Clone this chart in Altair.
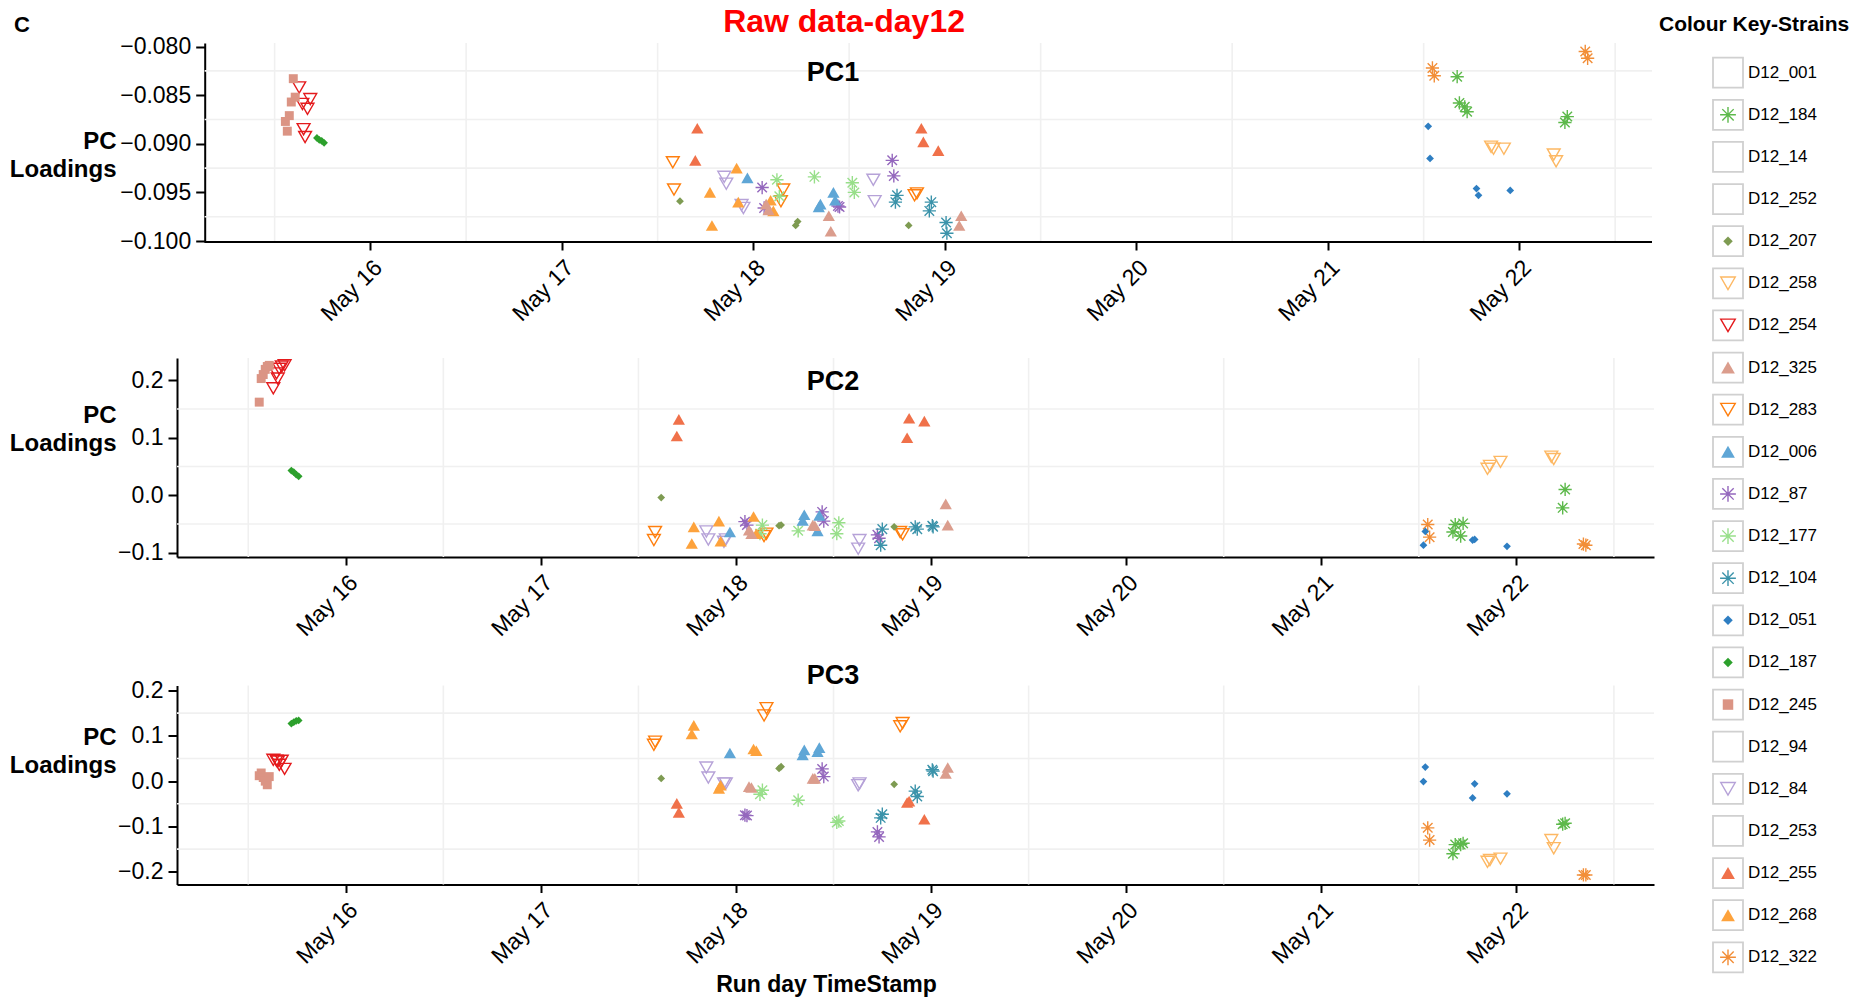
import altair as alt
import pandas as pd

FONT = "Liberation Sans"
BASE = pd.Timestamp("2017-05-15 00:00:00")

# ---------------- legend / strain definitions ----------------
strains = ["D12_001", "D12_184", "D12_14", "D12_252", "D12_207", "D12_258", "D12_254",
           "D12_325", "D12_283", "D12_006", "D12_87", "D12_177", "D12_104", "D12_051",
           "D12_187", "D12_245", "D12_94", "D12_84", "D12_253", "D12_255", "D12_268", "D12_322"]
strain_colors = ["#FFFFFF", "#5DB94B", "#FFFFFF", "#FFFFFF", "#7E9B52", "#FDB863", "#E41A1C",
                 "#DB9D8D", "#FF7F0E", "#5FA6D6", "#9467BD", "#98DF8A", "#3B93AA", "#2E7EC2",
                 "#2CA02C", "#DB9484", "#FFFFFF", "#B6A2D8", "#FFFFFF", "#F0714A", "#FDA23C", "#F28E38"]
strain_shapes = ["none", "asterisk", "none", "none", "diamond", "triangle-down", "triangle-down",
                 "triangle-up", "triangle-down", "triangle-up", "asterisk", "asterisk", "asterisk", "diamond",
                 "diamond", "square", "none", "triangle-down", "none", "triangle-up", "triangle-up", "asterisk"]

# ---------------- data: hours after 15 May 00:00, PC loadings ----------------
d12_245 = dict(hours=[13.35, 13.59, 13.84, 14.09, 14.34, 14.58],
               pc1=[-0.0877, -0.0887, -0.0871, -0.0857, -0.0833, -0.0852],
               pc2=[0.162, 0.203, 0.210, 0.219, 0.224, 0.226],
               pc3=[0.012, 0.018, 0.008, 0.000, -0.008, 0.010])
d12_254 = dict(hours=[15.08, 15.48, 15.63, 15.82, 16.12, 16.47],
               pc1=[-0.0842, -0.0859, -0.0885, -0.0893, -0.0864, -0.0854],
               pc2=[0.186, 0.212, 0.203, 0.220, 0.224, 0.226],
               pc3=[0.047, 0.045, 0.043, 0.036, 0.045, 0.027])
d12_187 = dict(hours=[17.3, 17.6, 17.9, 18.2],
               pc1=[-0.0894, -0.0896, -0.0897, -0.0899],
               pc2=[0.043, 0.040, 0.036, 0.033],
               pc3=[0.127, 0.130, 0.133, 0.134])
d12_283 = dict(hours=[61.9, 62.05, 75.45, 75.75, 92.2, 92.5],
               pc1=[-0.0919, -0.0947, -0.0959, -0.0947, -0.0953, -0.0951],
               pc2=[-0.078, -0.064, -0.071, -0.067, -0.064, -0.068],
               pc3=[0.080, 0.087, 0.145, 0.161, 0.121, 0.128])
d12_255 = dict(hours=[64.72, 64.97, 93.05, 93.3, 95.17],
               pc1=[-0.0917, -0.0884, -0.0884, -0.0898, -0.0907],
               pc2=[0.103, 0.132, 0.100, 0.134, 0.129],
               pc3=[-0.049, -0.069, -0.047, -0.044, -0.084])
d12_268 = dict(hours=[66.56, 66.81, 69.9, 70.11, 74.16, 74.5],
               pc1=[-0.0950, -0.0984, -0.0925, -0.0960, -0.0958, -0.0969],
               pc2=[-0.084, -0.055, -0.045, -0.080, -0.037, -0.067],
               pc3=[0.104, 0.123, -0.016, -0.009, 0.071, 0.067])
d12_006 = dict(hours=[71.25, 80.2, 80.4, 82.03, 82.25],
               pc1=[-0.0935, -0.0965, -0.0962, -0.0950, -0.0958],
               pc2=[-0.064, -0.044, -0.034, -0.062, -0.035],
               pc3=[0.062, 0.058, 0.069, 0.065, 0.074])
d12_87 = dict(hours=[73.1, 73.35, 82.6, 82.8, 89.4, 89.6],
              pc1=[-0.0945, -0.0966, -0.0964, -0.0965, -0.0917, -0.0933],
              pc2=[-0.046, -0.052, -0.029, -0.045, -0.069, -0.075],
              pc3=[-0.075, -0.076, 0.027, 0.010, -0.112, -0.123])
d12_177 = dict(hours=[74.95, 75.25, 79.65, 84.4, 84.65],
               pc1=[-0.0937, -0.0954, -0.0934, -0.0940, -0.0950],
               pc2=[-0.067, -0.052, -0.062, -0.067, -0.048],
               pc3=[-0.029, -0.020, -0.042, -0.091, -0.088])
d12_84 = dict(hours=[68.35, 68.6, 70.52, 70.75, 87.03, 87.2],
              pc1=[-0.0934, -0.0941, -0.0963, -0.0966, -0.0937, -0.0959],
              pc2=[-0.063, -0.077, -0.081, -0.077, -0.093, -0.078],
              pc3=[0.030, 0.008, -0.005, -0.005, -0.009, -0.005])
d12_207 = dict(hours=[62.8, 77.3, 77.55, 91.46],
               pc1=[-0.0959, -0.0984, -0.0980, -0.0984],
               pc2=[-0.004, -0.053, -0.052, -0.055],
               pc3=[0.006, 0.028, 0.032, -0.007])
d12_325 = dict(hours=[73.6, 73.9, 81.45, 81.7, 97.8, 98.05],
               pc1=[-0.0962, -0.0968, -0.0974, -0.0990, -0.0984, -0.0974],
               pc2=[-0.061, -0.067, -0.052, -0.053, -0.015, -0.052],
               pc3=[-0.012, -0.014, 0.006, 0.006, 0.017, 0.030])
d12_104 = dict(hours=[89.8, 90.0, 94.05, 94.3, 96.15, 96.25],
               pc1=[-0.0960, -0.0953, -0.0969, -0.0960, -0.0981, -0.0992],
               pc2=[-0.087, -0.059, -0.055, -0.059, -0.053, -0.055],
               pc3=[-0.081, -0.073, -0.022, -0.034, 0.025, 0.022])
d12_322 = dict(hours=[157.1, 157.33, 176.25, 176.55],
               pc1=[-0.0822, -0.0830, -0.0805, -0.0812],
               pc2=[-0.051, -0.073, -0.085, -0.087],
               pc3=[-0.103, -0.130, -0.207, -0.207])
d12_051 = dict(hours=[156.57, 156.8, 162.62, 162.87, 166.85],
               pc1=[-0.0882, -0.0915, -0.0946, -0.0953, -0.0948],
               pc2=[-0.087, -0.063, -0.078, -0.077, -0.089],
               pc3=[-0.001, 0.031, -0.037, -0.006, -0.028])
d12_184 = dict(hours=[160.2, 160.48, 161.15, 161.45, 173.7, 174.0],
               pc1=[-0.0831, -0.0858, -0.0862, -0.0867, -0.0878, -0.0872],
               pc2=[-0.064, -0.051, -0.071, -0.049, -0.022, 0.010],
               pc3=[-0.160, -0.140, -0.140, -0.137, -0.095, -0.093])
d12_258 = dict(hours=[164.45, 164.75, 166.05, 172.3, 172.6],
               pc1=[-0.0903, -0.0905, -0.0905, -0.0911, -0.0918],
               pc2=[0.046, 0.051, 0.058, 0.067, 0.063],
               pc3=[-0.178, -0.174, -0.171, -0.130, -0.148])

strain_data = {"D12_245": d12_245, "D12_254": d12_254, "D12_187": d12_187, "D12_283": d12_283,
               "D12_255": d12_255, "D12_268": d12_268, "D12_006": d12_006, "D12_87": d12_87,
               "D12_177": d12_177, "D12_84": d12_84, "D12_207": d12_207, "D12_325": d12_325,
               "D12_104": d12_104, "D12_322": d12_322, "D12_051": d12_051, "D12_184": d12_184,
               "D12_258": d12_258}

grid_noons = ["2017-05-15 12:00", "2017-05-16 12:00", "2017-05-17 12:00", "2017-05-18 12:00",
              "2017-05-19 12:00", "2017-05-20 12:00", "2017-05-21 12:00", "2017-05-22 12:00"]
tick_days = [16, 17, 18, 19, 20, 21, 22]

pc1_ticks = [-0.100, -0.095, -0.090, -0.085, -0.080]
pc1_grid = [-0.0975, -0.0925, -0.0875, -0.0825]
pc2_ticks = [-0.1, 0.0, 0.1, 0.2]
pc2_grid = [-0.05, 0.05, 0.15]
pc3_ticks = [-0.2, -0.1, 0.0, 0.1, 0.2]
pc3_grid = [-0.15, -0.05, 0.05, 0.15]

# ---------------- styles ----------------
ASTERISK = "M-1,0L1,0M0,-1L0,1M-0.72,-0.72L0.72,0.72M-0.72,0.72L0.72,-0.72"
SHAPE_PATH = {"none": "circle", "asterisk": ASTERISK, "diamond": "diamond",
              "triangle-up": "triangle-up", "triangle-down": "triangle-down", "square": "square"}
KIND = {"none": "none", "asterisk": "open", "diamond": "filled", "triangle-up": "filled",
        "triangle-down": "open", "square": "filled"}
SIZE = {"none": 0, "asterisk": 175, "diamond": 60, "triangle-up": 150, "triangle-down": 165, "square": 80}
LEG_SIZE = {"none": 0, "asterisk": 250, "diamond": 90, "triangle-up": 190, "triangle-down": 210, "square": 110}
GRID = "#F0F0F0"

shape_of = dict(zip(strains, strain_shapes))
rows = []
for s, d in strain_data.items():
    for h, a, b, c in zip(d["hours"], d["pc1"], d["pc2"], d["pc3"]):
        rows.append(dict(strain=s, t=BASE + pd.Timedelta(hours=h), PC1=a, PC2=b, PC3=c,
                         kind=KIND[shape_of[s]], sz=SIZE[shape_of[s]]))
points = pd.DataFrame(rows)
grid_df = pd.DataFrame({"t": pd.to_datetime(grid_noons)})

color_scale = alt.Scale(domain=strains, range=strain_colors)
shape_scale = alt.Scale(domain=strains, range=[SHAPE_PATH[s] for s in strain_shapes])


def dt(date, hours=0, minutes=0):
    return alt.DateTime(year=2017, month=5, date=date, hours=hours, minutes=minutes)


# panel 1 shares its left edge with panels 2/3 but its y axis sits further in
X1_DOMAIN = [dt(14, 23, 46), dt(22, 16, 37)]
X23_DOMAIN = [dt(15, 3, 14), dt(22, 16, 56)]
P1_AXIS_START = pd.Timestamp("2017-05-15 03:14")
P1_AXIS_END = pd.Timestamp("2017-05-22 16:37")


def panel(pc, width, xdom, ydom, yticks, yfmt, ygrid, title_dy, ytitle_y, xtitle, inset=0):
    x_scale = alt.Scale(domain=xdom)
    xaxis_kw = dict(values=[dt(d) for d in tick_days], format="%b %d", labelAngle=315,
                    labelAlign="right", labelBaseline="top", labelPadding=6, tickSize=8,
                    grid=False, domain=(inset == 0))
    if xtitle:
        xaxis = alt.Axis(title=xtitle, titleX=649, titleY=107, titleAlign="center",
                         titleBaseline="alphabetic", titleFontSize=23, titleFontWeight="bold",
                         **xaxis_kw)
    else:
        xaxis = alt.Axis(title=None, **xaxis_kw)
    yaxis = alt.Axis(values=yticks, format=yfmt, title=["PC", "Loadings"], titleAngle=0,
                     titleAlign="right", titleBaseline="alphabetic", titleX=-61 - inset,
                     titleY=ytitle_y, titleFontSize=24, titleFontWeight="bold",
                     titleLineHeight=28, tickSize=9, labelPadding=5, grid=False,
                     offset=-inset)
    y_scale = alt.Scale(domain=ydom, nice=False, zero=False)
    X = alt.X("t:T", scale=x_scale, axis=xaxis)
    Y = alt.Y("v:Q", scale=y_scale, axis=yaxis)
    layers = [alt.Chart(grid_df).mark_rule(color=GRID, strokeWidth=1.6).encode(x=X)]
    if inset:
        hdf = pd.DataFrame({"v": ygrid, "t": [P1_AXIS_START] * len(ygrid),
                            "t2": [P1_AXIS_END] * len(ygrid)})
        layers.append(alt.Chart(hdf).mark_rule(color=GRID, strokeWidth=1.6).encode(
            x=X, x2="t2:T", y=Y))
        bdf = pd.DataFrame({"t": [P1_AXIS_START], "t2": [P1_AXIS_END], "v": [ydom[0]]})
        layers.append(alt.Chart(bdf).mark_rule(color="black", strokeWidth=2).encode(
            x=X, x2="t2:T", y=Y))
    else:
        layers.append(alt.Chart(pd.DataFrame({"v": ygrid})).mark_rule(
            color=GRID, strokeWidth=1.6).encode(y=Y))
    base = alt.Chart(points).encode(
        x=X,
        y=alt.Y(f"{pc}:Q", scale=y_scale, axis=yaxis),
        color=alt.Color("strain:N", scale=color_scale, legend=None),
        shape=alt.Shape("strain:N", scale=shape_scale, legend=None),
        size=alt.Size("sz:Q", scale=None, legend=None),
    )
    layers.append(base.transform_filter(alt.datum.kind == "open").mark_point(
        filled=False, strokeWidth=1.4, opacity=1))
    layers.append(base.transform_filter(alt.datum.kind == "filled").mark_point(
        filled=True, opacity=1, strokeWidth=0))
    return alt.layer(*layers).properties(
        width=width, height=199,
        title=alt.TitleParams(pc, anchor="start", frame="group", align="center", dx=656,
                              dy=title_dy, offset=0, baseline="alphabetic", fontSize=27,
                              fontWeight="bold", font=FONT, color="black"))


p1 = panel("PC1", 1475, X1_DOMAIN, [-0.1001, -0.07963], pc1_ticks, ".3f", pc1_grid, 72, 105.7,
           None, inset=27.7)
p2 = panel("PC2", 1477, X23_DOMAIN, [-0.1075, 0.2388], pc2_ticks, ".1f", pc2_grid, 60, 64, None)
p3 = panel("PC3", 1477, X23_DOMAIN, [-0.228, 0.211], pc3_ticks, ".1f", pc3_grid, 32, 59.3,
           "Run day TimeStamp")

top_pair = alt.vconcat(p1, p2, spacing=30)
panels = alt.vconcat(top_pair, p3, spacing=20.5).properties(
    title=alt.TitleParams("Raw data-day12", anchor="middle", dx=12, dy=28, offset=0,
                          baseline="alphabetic", fontSize=32, fontWeight="bold",
                          color="#FF0000", font=FONT))

# ---------------- custom legend ----------------
legend_df = pd.DataFrame({"strain": strains,
                          "kind": [KIND[s] for s in strain_shapes],
                          "sz": [LEG_SIZE[s] for s in strain_shapes]})
ly = alt.Y("strain:N", sort=strains, axis=None, scale=alt.Scale(padding=0.705))
boxes = alt.Chart(legend_df).mark_square(size=900, fill="white", stroke="#D0D0D0",
                                         strokeWidth=1.8, opacity=1).encode(x=alt.value(69), y=ly)
lbase = alt.Chart(legend_df).encode(
    x=alt.value(69), y=ly,
    color=alt.Color("strain:N", scale=color_scale, legend=None),
    shape=alt.Shape("strain:N", scale=shape_scale, legend=None),
    size=alt.Size("sz:Q", scale=None, legend=None))
l_open = lbase.transform_filter(alt.datum.kind == "open").mark_point(filled=False, strokeWidth=1.4, opacity=1)
l_fill = lbase.transform_filter(alt.datum.kind == "filled").mark_point(filled=True, opacity=1, strokeWidth=0)
l_text = alt.Chart(legend_df).mark_text(align="left", baseline="middle", fontSize=17, font=FONT,
                                        color="black").encode(x=alt.value(89), y=ly, text="strain:N")
legend_chart = alt.layer(boxes, l_open, l_fill, l_text).properties(
    width=180, height=944,
    title=alt.TitleParams("Colour Key-Strains", anchor="start", offset=0, dy=8.7,
                          baseline="alphabetic", fontSize=21, fontWeight="bold", font=FONT,
                          color="black"))

chart = alt.hconcat(panels, legend_chart, spacing=4).properties(
    title=alt.TitleParams("C", anchor="start", frame="bounds", offset=0, dy=48, dx=4.7,
                          baseline="alphabetic", fontSize=22, fontWeight="bold", font=FONT,
                          color="black"),
    padding={"left": 9, "top": 5, "right": 0, "bottom": 0},
).configure_axis(
    domainColor="black", domainWidth=2, tickColor="black", tickWidth=2,
    labelFont=FONT, labelFontSize=23, labelColor="black", titleFont=FONT, titleColor="black",
).configure_view(stroke=None).configure_title(font=FONT)

chart.save("out.html", embed_options={"renderer": "svg", "actions": False})
